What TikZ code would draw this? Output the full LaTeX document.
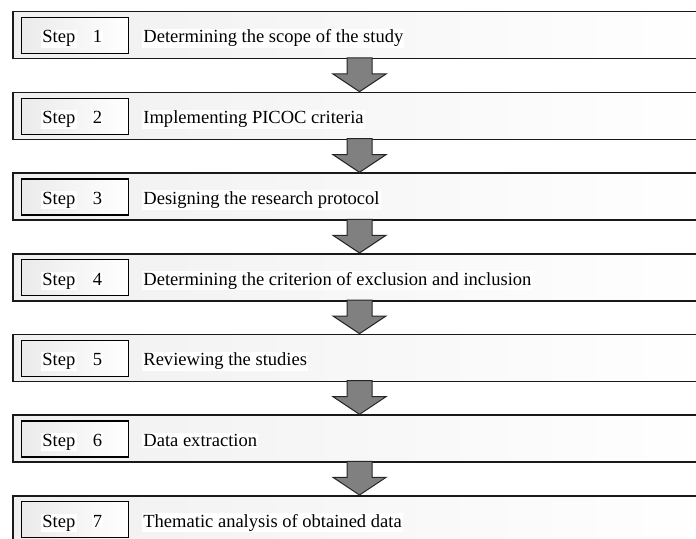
\documentclass[tikz,border=0pt]{standalone}
\usepackage{fontspec}
\setmainfont{Liberation Serif}
\begin{document}
\begin{tikzpicture}[x=1bp,y=-1bp,
  outerbox/.style={draw=black!90, line width=1.5bp, left color=black!6, right color=white,
    minimum width=698bp, minimum height=47bp, anchor=north west, inner sep=0pt},
  innerbox/.style={draw=black, line width=1.3bp, left color=black!8, right color=white,
    minimum width=107bp, minimum height=36bp, anchor=north west, inner sep=0pt},
  lbl/.style={fill=white, inner sep=1.2bp, font=\fontsize{18.6}{20}\selectfont, text=black},
  blockarrow/.style={draw=black!85, line width=1bp, fill=black!50, line join=miter}]
\useasboundingbox (0,0) rectangle (696,539);
\clip (0,0) rectangle (696,539);
\foreach \i/\t in {1/Determining the scope of the study,
                   2/Implementing PICOC criteria,
                   3/Designing the research protocol,
                   4/Determining the criterion of exclusion and inclusion,
                   5/Reviewing the studies,
                   6/Data extraction,
                   7/Thematic analysis of obtained data}{
  \pgfmathsetmacro\tp{11+80.67*(\i-1)}
  \node[outerbox] (o\i) at (12,\tp) {};
  \node[innerbox] (s\i) at (21,{\tp+6}) {};
  \node[lbl, anchor=base west] (w\i) at (41,{\tp+32}) {Step};
  \node[lbl, anchor=base] (n\i) at (97.5,{\tp+32}) {\i};
  \node[lbl, anchor=base west] (d\i) at (142,{\tp+32}) {\t};
}
\foreach \i in {1,...,6}{
  \pgfmathsetmacro\b{11+80.67*(\i-1)+47}
  \coordinate (a\i) at (359.5,\b);
  \draw[blockarrow] (347,\b) -- (372,\b) -- (372,{\b+16}) -- (386,{\b+16})
     -- (359.5,{\b+33.67}) -- (333,{\b+16}) -- (347,{\b+16}) -- cycle;
}
\end{tikzpicture}
\end{document}
